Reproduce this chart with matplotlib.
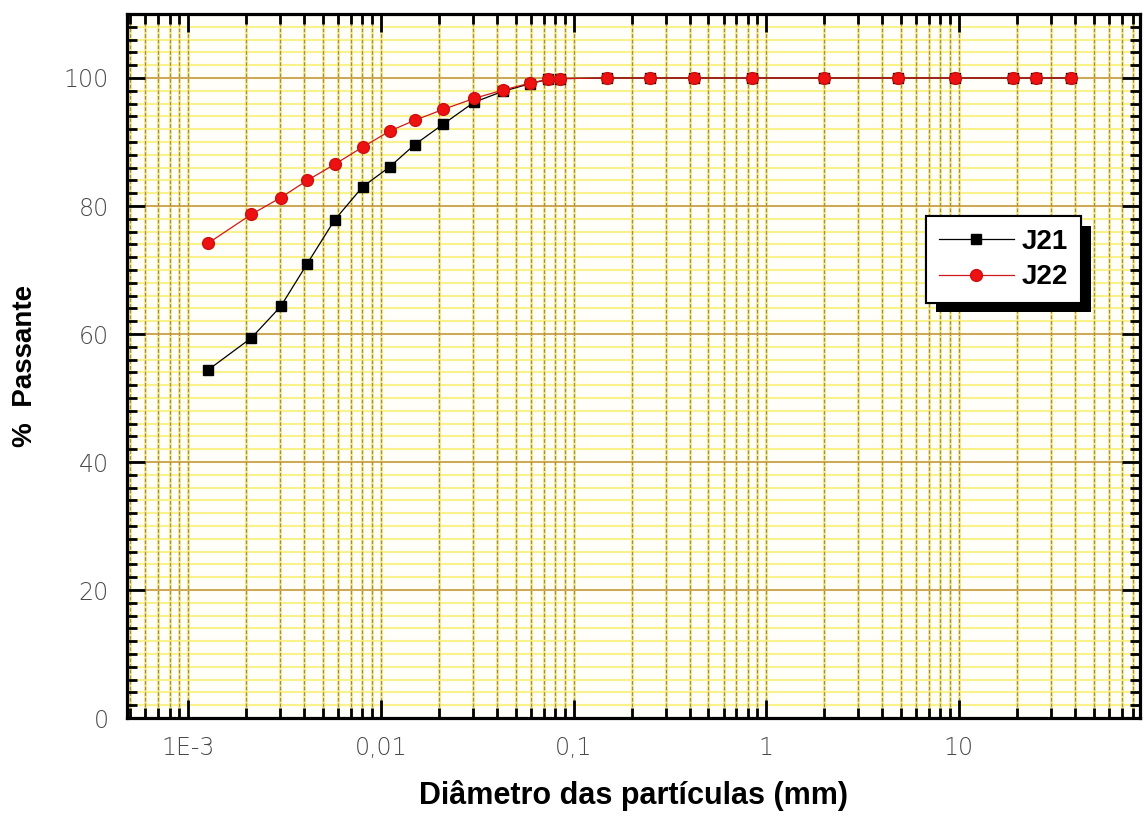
import matplotlib
matplotlib.use("Agg")
import matplotlib.pyplot as plt
import matplotlib.patheffects as pe
from matplotlib.ticker import FixedLocator, LogLocator, NullFormatter, MultipleLocator
import numpy as np

# Particle diameters (mm): sedimentation readings followed by sieve openings
diametros = [0.00127, 0.00213, 0.00302, 0.00415, 0.00575, 0.00804, 0.0111,
             0.0150, 0.0211, 0.0304, 0.0428, 0.0594, 0.074, 0.085,
             0.149, 0.25, 0.42, 0.84, 2.0, 4.8, 9.5, 19.0, 25.0, 38.0]

# Percent passing for each sample
j21 = [54.4, 59.4, 64.3, 71.0, 77.8, 83.0, 86.1,
       89.6, 92.8, 96.2, 97.9, 99.1, 99.8, 99.9,
       100, 100, 100, 100, 100, 100, 100, 100, 100, 100]
j22 = [74.2, 78.7, 81.3, 84.0, 86.5, 89.2, 91.7,
       93.4, 95.1, 96.8, 98.1, 99.2, 99.8, 99.9,
       100, 100, 100, 100, 100, 100, 100, 100, 100, 100]

x_ticks = [1e-3, 1e-2, 1e-1, 1, 10]
x_tick_labels = ["1E-3", "0,01", "0,1", "1", "10"]
y_ticks = [0, 20, 40, 60, 80, 100]

fig = plt.figure(figsize=(11.44, 8.18), dpi=100)
fig.patch.set_facecolor("white")
ax = fig.add_axes([0.1108, 0.1222, 0.8857, 0.8607])
ax.set_facecolor("#fffef8")

ax.set_xscale("log")
ax.set_xlim(4.8e-4, 87)
ax.set_ylim(0, 110)

# Paper-style grid: yellow rules every 2 %, brown rules every 20 %
for yv in np.arange(2, 110, 2):
    ax.axhline(yv, color="#f9f28a", lw=1.5, zorder=0.8)
    if yv % 20 == 0:
        ax.axhline(yv, color="#c0924a", lw=1.1, zorder=1.3)

# Vertical rules at every log subdivision
vlines = [m * 10.0 ** e for e in range(-4, 2) for m in range(1, 10)]
for xv in vlines:
    if 4.8e-4 < xv < 87:
        ax.axvline(xv, color="#f7ee88", lw=2.0, zorder=1.0)
        ax.axvline(xv, color="#a48a56", lw=0.9, ls=(0, (3, 1.5)), zorder=1.2)

ax.plot(diametros, j21, color="black", lw=0.9, marker="s", ms=7.5,
        mfc="black", mec="black", label="J21", zorder=3)
ax.plot(diametros, j22, color="#d01818", lw=0.9, marker="o", ms=8.5,
        mfc="#ee1111", mec="#cc1010", label="J22", zorder=4)

# Axes frame and ticks
for s in ax.spines.values():
    s.set_linewidth(2.3)
    s.set_color("black")
    s.set_zorder(6)

ax.xaxis.set_major_locator(FixedLocator(x_ticks))
ax.set_xticklabels(x_tick_labels)
ax.xaxis.set_minor_locator(LogLocator(base=10, subs=np.arange(2, 10), numticks=20))
ax.xaxis.set_minor_formatter(NullFormatter())
ax.yaxis.set_major_locator(FixedLocator(y_ticks))
ax.yaxis.set_minor_locator(MultipleLocator(2))

ax.tick_params(which="both", direction="in", top=True, right=True,
               color="black", width=2)
ax.tick_params(which="major", length=13)
ax.tick_params(which="minor", length=7)
ax.tick_params(axis="x", which="major", pad=13)
ax.tick_params(axis="y", which="major", pad=13)

for lab in ax.get_xticklabels() + ax.get_yticklabels():
    lab.set_fontfamily("DejaVu Sans")
    lab.set_fontsize(17)
    lab.set_fontweight("light")
    lab.set_color("#4a4a4a")

ax.set_xlabel("Diâmetro das partículas (mm)", family="Liberation Sans",
              weight="bold", size=22, labelpad=14)
ax.set_ylabel("%  Passante", family="Liberation Sans", weight="bold",
              size=20, labelpad=18)

leg = ax.legend(loc="upper left", bbox_to_anchor=(0.789, 0.713),
                borderaxespad=0, fancybox=False, frameon=True,
                prop=dict(family="Liberation Sans", weight="bold", size=20),
                handlelength=2.7, handletextpad=0.3, labelspacing=0.35,
                borderpad=0.45, framealpha=1)
leg.set_zorder(7)
frame = leg.get_frame()
frame.set_edgecolor("black")
frame.set_linewidth(1.5)
frame.set_facecolor("white")
frame.set_path_effects([pe.withSimplePatchShadow(offset=(7, -7),
                                                 shadow_rgbFace="black",
                                                 alpha=1.0),
                        pe.Normal()])

fig.savefig("out.png", dpi=100)
